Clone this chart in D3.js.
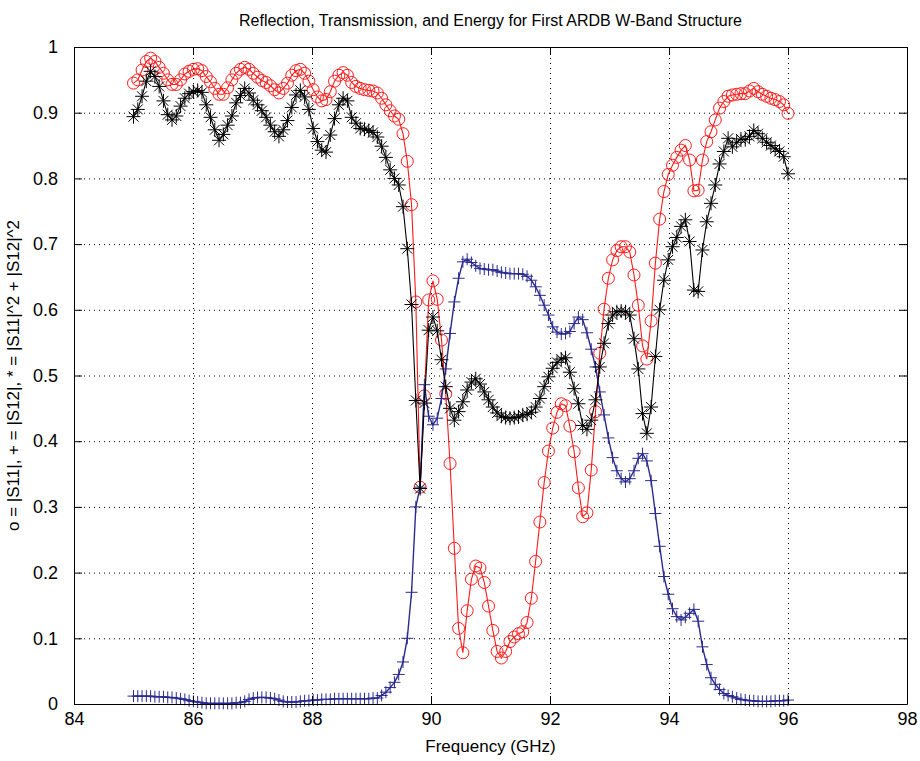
<!DOCTYPE html>
<html>
<head>
<meta charset="utf-8">
<script src="https://cdn.jsdelivr.net/npm/d3@7"></script>
<style>
  body { margin: 0; background: #fff; }
  text { font-family: "Liberation Sans", Arial, Helvetica, sans-serif; }
</style>
</head>
<body>
<div id="chart"></div>
<script>
// sweep: 154 points from 85 to 96 GHz
var nPts = 154;
var freqGHz = d3.range(nPts).map(function(i) { return 85 + i * 11 / (nPts - 1); });

// o  |S11|
var s11 = [0.945,0.95,0.965,0.978,0.983,0.978,0.969,0.96,0.95,0.943,
  0.943,0.95,0.959,0.963,0.966,0.967,0.964,0.955,0.947,0.937,
  0.928,0.928,0.938,0.95,0.96,0.966,0.969,0.966,0.96,0.954,
  0.949,0.946,0.941,0.935,0.93,0.937,0.945,0.957,0.964,0.966,
  0.96,0.948,0.935,0.924,0.918,0.92,0.932,0.948,0.957,0.961,
  0.957,0.946,0.94,0.937,0.935,0.934,0.933,0.93,0.922,0.912,
  0.903,0.895,0.89,0.868,0.826,0.76,0.612,0.33,0.469,0.615,
  0.644,0.616,0.554,0.472,0.366,0.237,0.115,0.078,0.142,0.19,
  0.21,0.207,0.185,0.149,0.112,0.08,0.07,0.08,0.095,0.102,
  0.107,0.11,0.124,0.161,0.217,0.277,0.337,0.385,0.42,0.444,
  0.457,0.454,0.423,0.384,0.329,0.285,0.291,0.356,0.445,0.534,
  0.601,0.648,0.676,0.69,0.696,0.696,0.688,0.653,0.607,0.545,
  0.525,0.583,0.671,0.738,0.78,0.806,0.82,0.832,0.843,0.85,
  0.828,0.781,0.782,0.828,0.856,0.871,0.889,0.907,0.917,0.925,
  0.927,0.928,0.929,0.929,0.933,0.937,0.932,0.928,0.925,0.922,
  0.92,0.917,0.912,0.899];

// +  |S12|
var s12 = [0.012,0.012,0.012,0.012,0.012,0.011,0.011,0.011,0.010,0.010,
  0.009,0.008,0.007,0.005,0.004,0.003,0.002,0.001,0.001,0.001,
  0.001,0.001,0.001,0.001,0.002,0.002,0.004,0.007,0.009,0.010,
  0.010,0.010,0.009,0.008,0.006,0.004,0.003,0.003,0.003,0.004,
  0.005,0.005,0.006,0.006,0.007,0.007,0.007,0.008,0.008,0.008,
  0.008,0.008,0.008,0.008,0.008,0.008,0.009,0.009,0.013,0.018,
  0.025,0.033,0.045,0.064,0.10,0.17,0.30,0.33,0.486,0.438,
  0.425,0.435,0.465,0.51,0.564,0.612,0.648,0.673,0.677,0.672,
  0.667,0.663,0.662,0.661,0.661,0.659,0.657,0.656,0.655,0.655,
  0.655,0.654,0.651,0.645,0.635,0.622,0.607,0.592,0.574,0.566,
  0.563,0.564,0.567,0.579,0.589,0.585,0.565,0.54,0.513,0.475,
  0.44,0.405,0.375,0.355,0.343,0.338,0.343,0.355,0.374,0.381,
  0.37,0.34,0.29,0.24,0.194,0.167,0.145,0.133,0.128,0.132,
  0.138,0.144,0.126,0.087,0.06,0.04,0.03,0.022,0.016,0.013,
  0.011,0.009,0.007,0.006,0.005,0.005,0.004,0.004,0.004,0.004,
  0.005,0.005,0.005,0.006];

// *  |S11|^2 + |S12|^2
var energy = [0.894,0.905,0.925,0.948,0.963,0.955,0.94,0.918,0.897,0.889,
  0.895,0.91,0.922,0.929,0.932,0.934,0.931,0.912,0.893,0.874,
  0.858,0.867,0.881,0.895,0.915,0.926,0.937,0.93,0.919,0.912,
  0.903,0.893,0.881,0.871,0.864,0.874,0.888,0.908,0.927,0.934,
  0.924,0.905,0.876,0.856,0.843,0.84,0.866,0.891,0.912,0.922,
  0.918,0.893,0.884,0.876,0.875,0.873,0.87,0.863,0.849,0.832,
  0.813,0.8,0.79,0.757,0.693,0.608,0.462,0.328,0.458,0.569,
  0.589,0.568,0.524,0.483,0.45,0.432,0.445,0.46,0.478,0.49,
  0.495,0.487,0.475,0.463,0.452,0.443,0.438,0.436,0.435,0.436,
  0.437,0.44,0.441,0.444,0.452,0.465,0.483,0.498,0.511,0.52,
  0.525,0.527,0.505,0.48,0.457,0.424,0.418,0.432,0.463,0.513,
  0.549,0.579,0.592,0.597,0.598,0.597,0.592,0.556,0.51,0.442,
  0.412,0.452,0.529,0.6,0.645,0.676,0.696,0.71,0.727,0.737,
  0.704,0.63,0.628,0.691,0.734,0.762,0.79,0.822,0.841,0.861,
  0.848,0.855,0.86,0.859,0.864,0.873,0.868,0.861,0.855,0.85,
  0.845,0.841,0.833,0.807];

var xTicks = [84, 86, 88, 90, 92, 94, 96, 98];
var yTicks = [0, 0.1, 0.2, 0.3, 0.4, 0.5, 0.6, 0.7, 0.8, 0.9, 1];

var titleText = "Reflection, Transmission, and Energy for First ARDB W-Band Structure";
var xLabel = "Frequency (GHz)";
var yLabel = "o = |S11|, + = |S12|, * = |S11|^2 + |S12|^2";

// layout (plot box edges)
var svgWidth = 920, svgHeight = 761;
var plotL = 74, plotR = 907, plotT = 47, plotB = 704;

var svg = d3.select("#chart").append("svg")
  .attr("width", svgWidth)
  .attr("height", svgHeight);

svg.append("rect").attr("width", svgWidth).attr("height", svgHeight).attr("fill", "#fff");

var xScale = d3.scaleLinear().domain([84, 98]).range([plotL, plotR]);
var yScale = d3.scaleLinear().domain([0, 1]).range([plotB, plotT]);

// dotted grid
var grid = svg.append("g").attr("class", "grid");
grid.append("g")
  .attr("transform", "translate(0," + plotB + ")")
  .call(d3.axisBottom(xScale).tickValues(xTicks).tickSize(-(plotB - plotT)).tickFormat(""));
grid.append("g")
  .attr("transform", "translate(" + plotL + ",0)")
  .call(d3.axisLeft(yScale).tickValues(yTicks).tickSize(-(plotR - plotL)).tickFormat(""));
grid.selectAll(".domain").remove();
grid.selectAll("line")
  .attr("stroke", "#666")
  .attr("stroke-width", 1)
  .attr("stroke-dasharray", "1,4");

// series
function drawLine(vals, color, width) {
  var line = d3.line()
    .x(function(d, i) { return xScale(freqGHz[i]); })
    .y(function(d) { return yScale(d); });
  svg.append("path")
    .datum(vals)
    .attr("fill", "none")
    .attr("stroke", color)
    .attr("stroke-width", width)
    .attr("d", line);
}

function drawMarkers(vals, color, shape) {
  var g = svg.append("g")
    .attr("fill", "none")
    .attr("stroke", color)
    .attr("stroke-width", 1);
  var pts = g.selectAll(null)
    .data(vals)
    .enter()
    .append("g")
    .attr("transform", function(d, i) {
      return "translate(" + xScale(freqGHz[i]) + "," + yScale(d) + ")";
    });
  if (shape === "circle") {
    pts.append("circle").attr("r", 6);
  } else if (shape === "plus") {
    pts.append("path").attr("d", "M-6,0H6M0,-6V6");
  } else {
    pts.append("path").attr("d", "M-7,0H7M0,-7V7M-5,-5L5,5M-5,5L5,-5");
  }
}

var red = "#ff1a1a", blue = "#2a2a8f", black = "#000";

drawLine(s11, red, 1.1);
drawMarkers(s11, red, "circle");
drawLine(s12, blue, 1.4);
drawMarkers(s12, blue, "plus");
drawLine(energy, black, 1.1);
drawMarkers(energy, black, "star");

// axes (ticks pointing inward, box all round)
svg.append("g").attr("transform", "translate(0," + plotB + ")")
  .call(d3.axisBottom(xScale).tickValues(xTicks).tickSizeInner(-8).tickSizeOuter(0).tickPadding(8));
svg.append("g").attr("transform", "translate(0," + plotT + ")")
  .call(d3.axisTop(xScale).tickValues(xTicks).tickSizeInner(-8).tickSizeOuter(0).tickFormat(""));
svg.append("g").attr("transform", "translate(" + plotL + ",0)")
  .call(d3.axisLeft(yScale).tickValues(yTicks).tickSizeInner(-8).tickSizeOuter(0).tickPadding(16)
    .tickFormat(function(d) { return d3.format("")(d); }));
svg.append("g").attr("transform", "translate(" + plotR + ",0)")
  .call(d3.axisRight(yScale).tickValues(yTicks).tickSizeInner(-8).tickSizeOuter(0).tickFormat(""));

svg.selectAll(".tick line").attr("stroke", "#000");
svg.selectAll(".domain").attr("stroke", "#000").attr("stroke-width", 1);
svg.selectAll(".tick text")
  .attr("font-size", 18)
  .attr("fill", "#000")
  .style("font-family", "'Liberation Sans', Arial, sans-serif");

// title
svg.append("text")
  .attr("x", (plotL + plotR) / 2)
  .attr("y", 26)
  .attr("text-anchor", "middle")
  .attr("font-size", 16)
  .attr("fill", "#000")
  .text(titleText);

// x label
svg.append("text")
  .attr("x", (plotL + plotR) / 2)
  .attr("y", 752)
  .attr("text-anchor", "middle")
  .attr("font-size", 17)
  .attr("fill", "#000")
  .text(xLabel);

// y label
svg.append("text")
  .attr("transform", "translate(19," + (plotT + plotB) / 2 + ") rotate(-90)")
  .attr("text-anchor", "middle")
  .attr("font-size", 17)
  .attr("fill", "#000")
  .text(yLabel);
</script>
</body>
</html>
